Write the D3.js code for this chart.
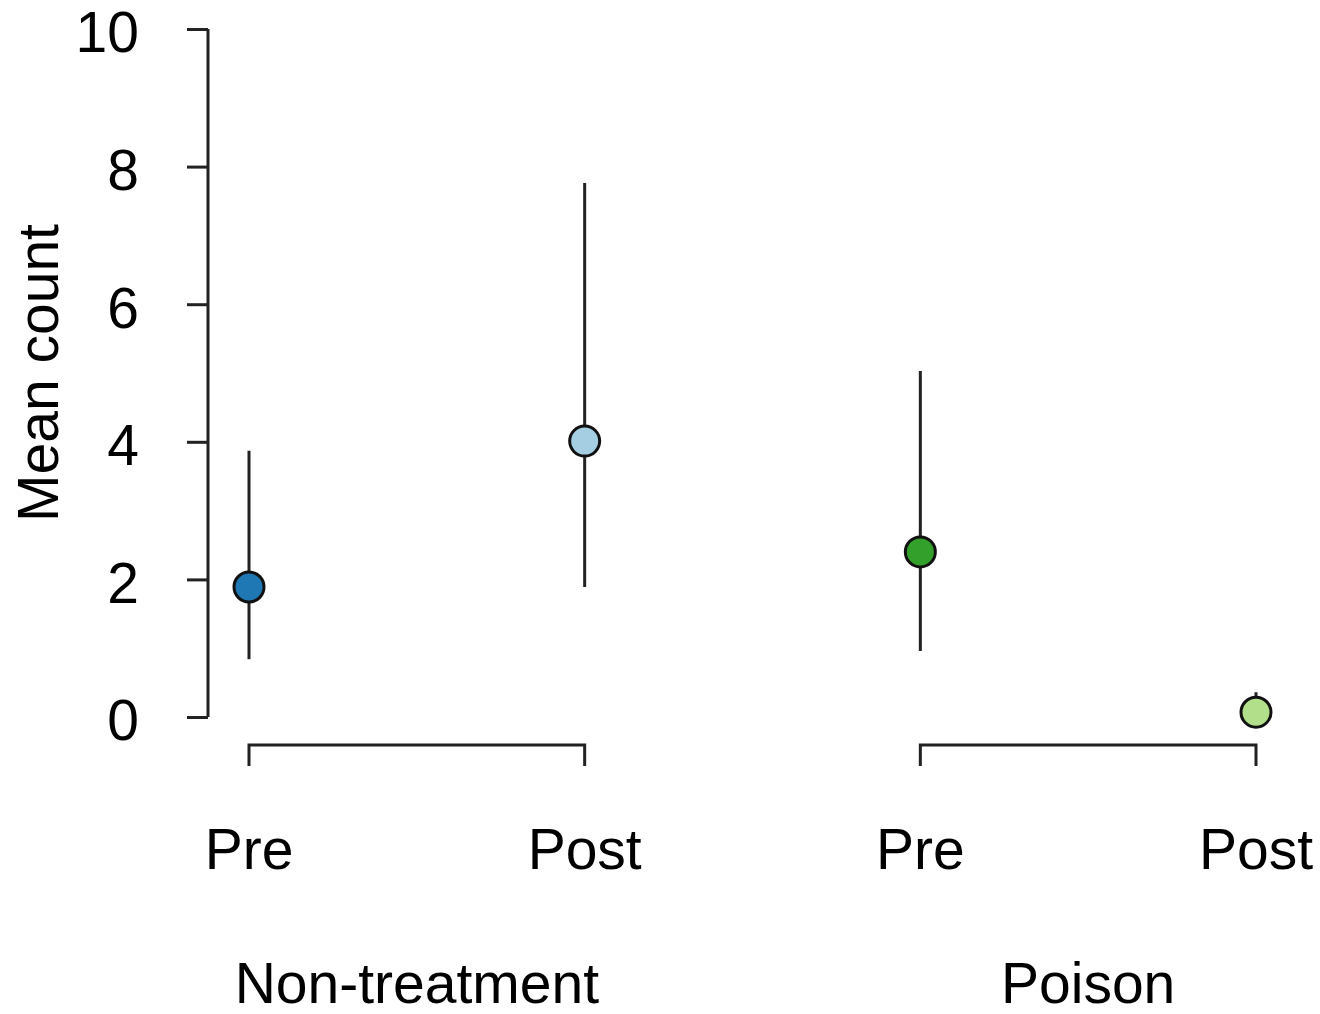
<!DOCTYPE html>
<html>
<head>
<meta charset="utf-8">
<script src="https://cdn.jsdelivr.net/npm/d3@7"></script>
<style>
  body { margin: 0; background: #fff; }
  text { font-family: "Liberation Sans", Arial, sans-serif; fill: #000; }
</style>
</head>
<body>
<div class="vis"></div>
<script>
const groups = ['Non-treatment', 'Poison'];
const phases = ['Pre', 'Post', 'Pre', 'Post'];
const groupOf = [0, 0, 1, 1];
const means = [1.89, 4.01, 2.40, 0.07];
const lower = [0.84, 1.89, 0.96, 0.0];
const upper = [3.87, 7.76, 5.03, 0.36];
const colors = ['#1f78b4', '#a6cee3', '#33a02c', '#b2df8a'];
const yTicks = [0, 2, 4, 6, 8, 10];

const W = 1320, H = 1014;
const fontSize = '57px';
const svg = d3.select('.vis').append('svg')
    .attr('width', W)
    .attr('height', H);

const y = d3.scaleLinear().domain([0, 10]).range([717, 29]);
const x = d3.scalePoint().domain(d3.range(means.length)).range([249, 1256]);

// y axis
const yAxis = svg.append('g')
    .attr('transform', 'translate(208,0)')
    .call(d3.axisLeft(y).tickValues(yTicks).tickSize(21).tickPadding(48));
yAxis.select('.domain').attr('d', 'M0,' + y(0) + 'V' + y(10))
    .attr('stroke', '#222').attr('stroke-width', 3);
yAxis.selectAll('.tick line').attr('stroke', '#222').attr('stroke-width', 3);
yAxis.selectAll('.tick text')
    .style('font-family', '"Liberation Sans", Arial, sans-serif')
    .style('font-size', fontSize)
    .attr('fill', '#000')
    .attr('dy', '0.4em');

svg.append('text')
    .attr('transform', 'translate(58,' + y(5) + ') rotate(-90)')
    .attr('text-anchor', 'middle')
    .style('font-size', fontSize)
    .text('Mean count');

// error bars
svg.selectAll('.err')
    .data(means)
    .enter().append('line')
    .attr('x1', (d, i) => x(i))
    .attr('x2', (d, i) => x(i))
    .attr('y1', (d, i) => y(lower[i]))
    .attr('y2', (d, i) => y(upper[i]))
    .attr('stroke', '#222')
    .attr('stroke-width', 3);

// points
svg.selectAll('.pt')
    .data(means)
    .enter().append('circle')
    .attr('cx', (d, i) => x(i))
    .attr('cy', d => y(d))
    .attr('r', 15)
    .attr('fill', (d, i) => colors[i])
    .attr('stroke', '#111')
    .attr('stroke-width', 3);

// group brackets
const bracketY = 745, bracketTick = 21;
groups.forEach((g, gi) => {
    const idx = d3.range(means.length).filter(i => groupOf[i] === gi);
    const x0 = x(idx[0]), x1 = x(idx[idx.length - 1]);
    svg.append('path')
        .attr('d', 'M' + x0 + ',' + (bracketY + bracketTick) + 'V' + bracketY + 'H' + x1 + 'V' + (bracketY + bracketTick))
        .attr('fill', 'none')
        .attr('stroke', '#222')
        .attr('stroke-width', 3);
    svg.append('text')
        .attr('x', (x0 + x1) / 2)
        .attr('y', 1003)
        .attr('text-anchor', 'middle')
        .style('font-size', fontSize)
        .text(g);
});

// phase labels
svg.selectAll('.phase')
    .data(phases)
    .enter().append('text')
    .attr('x', (d, i) => x(i))
    .attr('y', 869)
    .attr('text-anchor', 'middle')
    .style('font-size', fontSize)
    .text(d => d);
</script>
</body>
</html>
